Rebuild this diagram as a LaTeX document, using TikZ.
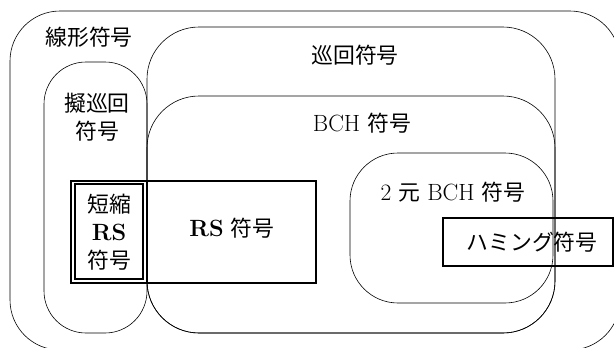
\documentclass[tikz,border=0pt]{standalone}
\usepackage{fontspec}
\newfontfamily\cjkf[Scale=0.93]{Noto Sans CJK JP}
\begin{document}
\begin{tikzpicture}[x=1pt,y=-1pt,
  region/.style={draw, line width=0.6pt, rounded corners=#1, inner sep=0pt},
  sqbox/.style={draw, line width=1.2pt, inner sep=0pt},
  lbl/.style={font=\fontsize{23.5}{28}\selectfont, align=center, inner sep=0pt}]
\useasboundingbox (0,0) rectangle (614,348);
\clip (0,0) rectangle (614,348);
\node[region=50pt, minimum width=610pt, minimum height=339pt] (lin) at (315,180.5) {};
\node[region=52pt, minimum width=408pt, minimum height=306pt] (cyc) at (351,180) {};
\node[region=52pt, minimum width=408pt, minimum height=237pt] (bch) at (351,214.5) {};
\node[region=42pt, minimum width=103pt, minimum height=271pt] (quasi) at (95.5,197.5) {};
\node[region=48pt, minimum width=203pt, minimum height=150pt] (bin) at (451.5,228) {};
\node[sqbox, minimum width=245pt, minimum height=102pt] (rs) at (193.5,232) {};
\node[sqbox, minimum width=76pt, minimum height=102pt] (shortout) at (109,232) {};
\node[sqbox, minimum width=68pt, minimum height=95pt] (shortin) at (109,231.5) {};
\node[sqbox, minimum width=170pt, minimum height=48pt] (ham) at (528,242) {};
\node[lbl] (tlin) at (89,37) {\cjkf 線形符号};
\node[lbl] (tquasi) at (97,117) {\cjkf 擬巡回\\\cjkf 符号};
\node[lbl] (tcyc) at (355,55) {\cjkf 巡回符号};
\node[lbl] (tbch) at (362,123) {BCH {\cjkf 符号}};
\node[lbl] (tbin) at (453,192) {2 {\cjkf 元} BCH {\cjkf 符号}};
\node[lbl] (trs) at (232,228) {\textbf{RS} {\cjkf 符号}};
\node[lbl] (tshort) at (109,232) {\cjkf 短縮\\\textbf{RS}\\\cjkf 符号};
\node[lbl] (tham) at (532,242) {\cjkf ハミング符号};
\end{tikzpicture}
\end{document}
